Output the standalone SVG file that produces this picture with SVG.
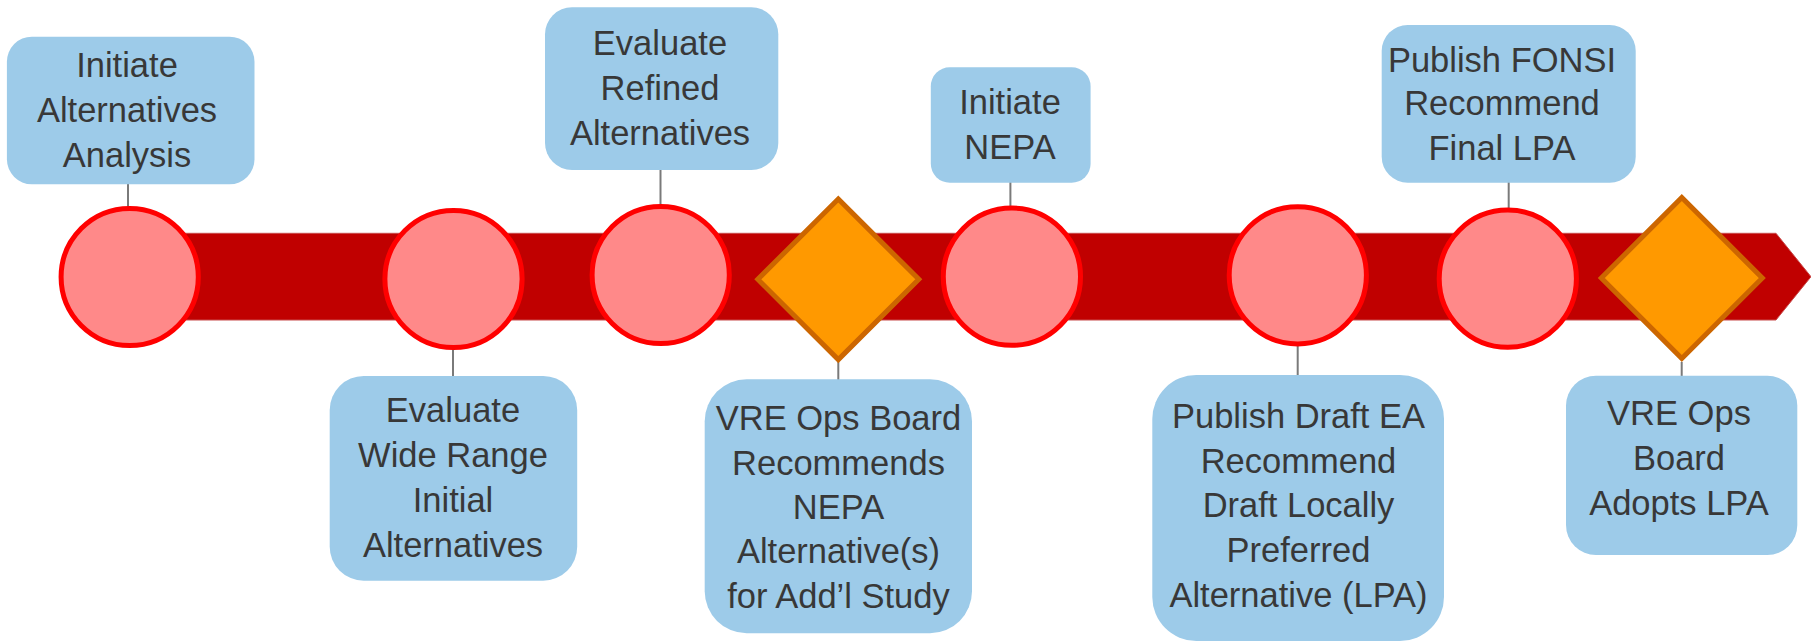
<svg xmlns="http://www.w3.org/2000/svg" width="1811" height="642" viewBox="0 0 1811 642">
<style>
.box{fill:#9dcbe9;}
.ms{fill:#ff8989;stroke:#ff0000;stroke-width:5;}
.dm{fill:#ff9900;stroke:#cc6600;stroke-width:5;stroke-linejoin:miter;}
.cn{stroke:#7a7a7a;stroke-width:2;fill:none;}
.t{font-family:"Liberation Sans",Arial,sans-serif;font-size:34.5px;fill:#383838;text-anchor:middle;}
</style>
<rect width="1811" height="642" fill="#ffffff"/>
<g id="timeline">
<polygon points="130,233.3 1776,233.3 1811,276.7 1776,320 130,320" fill="#c00000" stroke="#c84a4a" stroke-width="1"/>
</g>
<g id="connectors">
<line class="cn" x1="128" y1="184" x2="128" y2="208"/>
<line class="cn" x1="453" y1="349" x2="453" y2="377"/>
<line class="cn" x1="660.5" y1="169" x2="660.5" y2="206"/>
<line class="cn" x1="838.3" y1="362" x2="838.3" y2="380"/>
<line class="cn" x1="1010.4" y1="182" x2="1010.4" y2="207"/>
<line class="cn" x1="1297.7" y1="346" x2="1297.7" y2="376"/>
<line class="cn" x1="1508.7" y1="182" x2="1508.7" y2="208"/>
<line class="cn" x1="1681.7" y1="362" x2="1681.7" y2="376"/>
</g>
<g id="m1"><ellipse class="ms" cx="129.7" cy="277" rx="68.6" ry="68.6"/></g>
<g id="m2"><ellipse class="ms" cx="453.5" cy="279" rx="68.6" ry="68.6"/></g>
<g id="m3"><ellipse class="ms" cx="660.7" cy="275" rx="68.6" ry="68.6"/></g>
<g id="d1"><polygon class="dm" points="838.3,199 918.8,279.3 838.3,359.6 757.8,279.3"/></g>
<g id="m4"><ellipse class="ms" cx="1011.9" cy="276.7" rx="68.6" ry="68.6"/></g>
<g id="m5"><ellipse class="ms" cx="1297.8" cy="275.3" rx="68.6" ry="68.6"/></g>
<g id="m6"><ellipse class="ms" cx="1507.8" cy="278.7" rx="68.6" ry="68.6"/></g>
<g id="d2"><polygon class="dm" points="1681.8,197.5 1762.3,278 1681.8,358.5 1601.3,278"/></g>
<g id="box1">
<rect class="box" x="6.9" y="36.7" width="247.6" height="147.6" rx="25" ry="25"/>
<text class="t" x="127" y="77.3">Initiate</text>
<text class="t" x="127" y="122.3">Alternatives</text>
<text class="t" x="127" y="166.7">Analysis</text>
</g>
<g id="box2">
<rect class="box" x="329.7" y="376" width="247.5" height="204.7" rx="34" ry="34"/>
<text class="t" x="453" y="422.3">Evaluate</text>
<text class="t" x="453" y="467.3">Wide Range</text>
<text class="t" x="453" y="512.3">Initial</text>
<text class="t" x="453" y="556.7">Alternatives</text>
</g>
<g id="box3">
<rect class="box" x="545" y="7.3" width="233.3" height="162.7" rx="27" ry="27"/>
<text class="t" x="660" y="55">Evaluate</text>
<text class="t" x="660" y="100">Refined</text>
<text class="t" x="660" y="145">Alternatives</text>
</g>
<g id="box4">
<rect class="box" x="704.7" y="379.3" width="267.3" height="254" rx="42" ry="42"/>
<text class="t" x="838.5" y="430">VRE Ops Board</text>
<text class="t" x="838.5" y="475">Recommends</text>
<text class="t" x="838.5" y="519.3">NEPA</text>
<text class="t" x="838.5" y="563.3">Alternative(s)</text>
<text class="t" x="838.5" y="608.3">for Add’l Study</text>
</g>
<g id="box5">
<rect class="box" x="930.8" y="67.3" width="159.8" height="115.4" rx="19" ry="19"/>
<text class="t" x="1010" y="114.3">Initiate</text>
<text class="t" x="1010" y="159.3">NEPA</text>
</g>
<g id="box6">
<rect class="box" x="1152.3" y="375" width="291.7" height="266" rx="44" ry="44"/>
<text class="t" x="1298.5" y="428.3">Publish Draft EA</text>
<text class="t" x="1298.5" y="472.7">Recommend</text>
<text class="t" x="1298.5" y="516.7">Draft Locally</text>
<text class="t" x="1298.5" y="561.7">Preferred</text>
<text class="t" x="1298.5" y="606.7">Alternative (LPA)</text>
</g>
<g id="box7">
<rect class="box" x="1381.7" y="25" width="254" height="157.7" rx="26" ry="26"/>
<text class="t" x="1502" y="71.7">Publish FONSI</text>
<text class="t" x="1502" y="115">Recommend</text>
<text class="t" x="1502" y="160">Final LPA</text>
</g>
<g id="box8">
<rect class="box" x="1566" y="375.7" width="231.3" height="179.3" rx="30" ry="30"/>
<text class="t" x="1679" y="425">VRE Ops</text>
<text class="t" x="1679" y="470">Board</text>
<text class="t" x="1679" y="515">Adopts LPA</text>
</g>
</svg>
